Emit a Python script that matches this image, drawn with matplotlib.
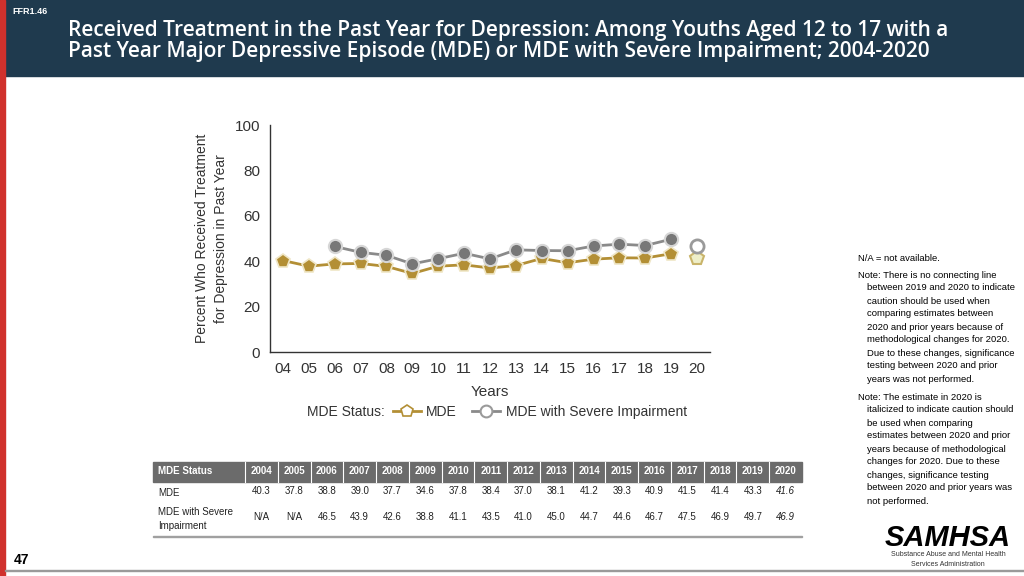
import numpy as np
import matplotlib.pyplot as plt
from matplotlib.lines import Line2D
from matplotlib.patches import Rectangle

plt.rcParams['font.family'] = ['Liberation Sans', 'DejaVu Sans']

# data
years = ["2004", "2005", "2006", "2007", "2008", "2009", "2010", "2011", "2012",
         "2013", "2014", "2015", "2016", "2017", "2018", "2019", "2020"]
year_ticks = [y[2:] for y in years]
mde = [40.3, 37.8, 38.8, 39.0, 37.7, 34.6, 37.8, 38.4, 37.0, 38.1, 41.2, 39.3,
       40.9, 41.5, 41.4, 43.3, 41.6]
severe = [None, None, 46.5, 43.9, 42.6, 38.8, 41.1, 43.5, 41.0, 45.0, 44.7,
          44.6, 46.7, 47.5, 46.9, 49.7, 46.9]
severe_txt = ["N/A" if v is None else "%.1f" % v for v in severe]
mde_txt = ["%.1f" % v for v in mde]

GOLD = '#b38f35'
GOLD_EDGE = '#efe6c6'
GRAY = '#777777'
GRAY_EDGE = '#d6d6d6'
NAVY = '#1f3a4e'
TXT = '#333333'

fig = plt.figure(figsize=(10.24, 5.76), dpi=100)

# header band and red left strip
fig.patches.append(Rectangle((0, 1 - 76/576), 1, 76/576, transform=fig.transFigure,
                             color=NAVY, zorder=0))
fig.patches.append(Rectangle((0, 0), 5/1024, 1, transform=fig.transFigure,
                             color='#d0312d', zorder=1))
fig.patches.append(Rectangle((5/1024, 1 - 571/576), 1, 1.5/576, transform=fig.transFigure,
                             color='#9a9a9a', zorder=1))
fig.text(12/1024, 1 - 12/576, "FFR1.46", color='white', fontsize=6.5, fontweight='bold',
         va='center')
fig.text(68/1024, 1 - 41/576,
         "Received Treatment in the Past Year for Depression: Among Youths Aged 12 to 17 with a\n"
         "Past Year Major Depressive Episode (MDE) or MDE with Severe Impairment; 2004-2020",
         color='white', fontsize=15.0, fontweight='semibold', family=['Open Sans', 'DejaVu Sans'],
         va='center', linespacing=1.0)
fig.text(14/1024, 1 - 560/576, "47", fontsize=10, fontweight='bold', va='center')

# chart
ax = fig.add_axes([270/1024, 1 - 352/576, 440/1024, 227/576])
x = np.arange(len(years))
ax.plot(x[:16], mde[:16], color=GOLD, lw=2, marker='p', ms=10,
        mfc=GOLD, mec=GOLD_EDGE, mew=1.2, zorder=3)
ax.plot(x[16], mde[16], marker='p', ms=10, mfc='#eeeec8', mec='#c9b46a', mew=1.5, zorder=3)
sx = [i for i in range(16) if severe[i] is not None]
ax.plot(sx, [severe[i] for i in sx], color='#8a8a8a', lw=2, marker='o', ms=9.5,
        mfc=GRAY, mec=GRAY_EDGE, mew=1.5, zorder=3)
ax.plot(x[16], severe[16], marker='o', ms=9.5, mfc='white', mec='#9a9a9a', mew=2, zorder=3)

ax.set_xlim(-0.5, 16.5)
ax.set_ylim(0, 100)
ax.set_yticks([0, 20, 40, 60, 80, 100])
ax.set_xticks(x)
ax.set_xticklabels(year_ticks)
ax.tick_params(length=0, labelsize=11, colors=TXT, pad=7)
for s in ['top', 'right']:
    ax.spines[s].set_visible(False)
for s in ['left', 'bottom']:
    ax.spines[s].set_color(TXT)
    ax.spines[s].set_linewidth(1)
ax.set_xlabel("Years", fontsize=11, color=TXT, labelpad=7)
ax.set_ylabel("Percent Who Received Treatment\nfor Depression in Past Year", fontsize=10,
              color=TXT, labelpad=5, linespacing=1.4)

# legend
fig.text(307/1024, 1 - 412/576, "MDE Status:", fontsize=10, color=TXT, va='center')
h1 = Line2D([], [], color=GOLD, lw=2, marker='p', ms=9, mfc='white', mec=GOLD, mew=1.2)
h2 = Line2D([], [], color='#8a8a8a', lw=2, marker='o', ms=8.5, mfc='white', mec='#9a9a9a', mew=1.5)
fig.legend([h1, h2], ["MDE", "MDE with Severe Impairment"], ncol=2, frameon=False,
           loc='center left', bbox_to_anchor=(393/1024, 1 - 412/576), fontsize=10,
           handlelength=2.0, handletextpad=0.4, columnspacing=1.1, borderpad=0,
           borderaxespad=0, labelcolor=TXT)

# data table
tx0 = 153
tcol0 = 245
tcw = (802 - 245) / 17
hy0, hy1 = 462, 482
fig.patches.append(Rectangle((tx0/1024, 1 - hy1/576), (802 - tx0)/1024, (hy1 - hy0)/576,
                             transform=fig.transFigure, color='#6b6b6b', zorder=1))
fig.patches.append(Rectangle((tx0/1024, 1 - 537/576), (802 - tx0)/1024, 1.2/576,
                             transform=fig.transFigure, color='#a0a0a0', zorder=1))
fs = 7
fig.text(158/1024, 1 - 471/576, "MDE Status", fontsize=fs, fontweight='bold', color='white',
         va='center')
fig.text(158/1024, 1 - 493/576, "MDE", fontsize=fs, color='#222222', va='center')
fig.text(158/1024, 1 - 519/576, "MDE with Severe\nImpairment", fontsize=fs, color='#222222',
         va='center', linespacing=1.6)
for i, y in enumerate(years):
    cx = (tcol0 + tcw * (i + 0.5)) / 1024
    style = 'italic' if y == "2020" else 'normal'
    fig.text(cx, 1 - 471/576, y, fontsize=fs, fontweight='bold', color='white',
             ha='center', va='center')
    fig.text(cx, 1 - 491/576, mde_txt[i], fontsize=fs, color='#222222',
             ha='center', va='center', style=style)
    fig.text(cx, 1 - 517/576, severe_txt[i], fontsize=fs, color='#222222',
             ha='center', va='center', style=style)
    xx = (tcol0 + tcw * i) / 1024
    fig.add_artist(Line2D([xx, xx], [1 - hy1/576, 1 - hy0/576], color='white', lw=0.8,
                          transform=fig.transFigure))

# notes
nfs = 6.8
fig.text(858/1024, 1 - 258/576, "N/A = not available.", fontsize=nfs, va='center')
note1 = ["Note: There is no connecting line", "between 2019 and 2020 to indicate",
         "caution should be used when", "comparing estimates between",
         "2020 and prior years because of", "methodological changes for 2020.",
         "Due to these changes, significance", "testing between 2020 and prior",
         "years was not performed."]
note2 = ["Note: The estimate in 2020 is", "italicized to indicate caution should",
         "be used when comparing", "estimates between 2020 and prior",
         "years because of methodological", "changes for 2020. Due to these",
         "changes, significance testing", "between 2020 and prior years was",
         "not performed."]
for k, line in enumerate(note1):
    fig.text((858 if k == 0 else 867)/1024, 1 - (275 + k * 13)/576, line, fontsize=nfs,
             va='center')
for k, line in enumerate(note2):
    fig.text((858 if k == 0 else 867)/1024, 1 - (397 + k * 13)/576, line, fontsize=nfs,
             va='center')

# logo
fig.text(948/1024, 1 - 538/576, "SAMHSA", fontsize=21, fontweight='bold', style='italic',
         ha='center', va='center')
fig.text(948/1024, 1 - 555/576, "Substance Abuse and Mental Health", fontsize=5,
         ha='center', va='center', color=TXT)
fig.text(948/1024, 1 - 564/576, "Services Administration", fontsize=5,
         ha='center', va='center', color=TXT)

fig.savefig("out.png", dpi=100)
